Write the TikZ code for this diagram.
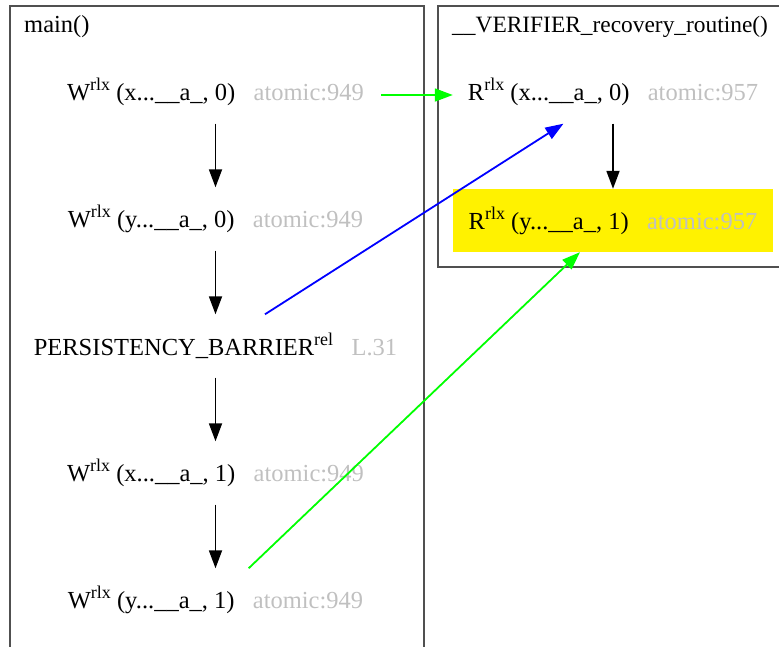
\documentclass[tikz,border=0pt]{standalone}
\usepackage{fontspec}
\setmainfont{Liberation Serif}
\usetikzlibrary{arrows.meta}
\definecolor{annot}{HTML}{C0C0C0}
\definecolor{frame}{HTML}{505050}
\newcommand\supx[1]{\raisebox{0.4em}{\fontsize{18}{18}\selectfont #1}}
\newcommand\annot[1]{\hspace{0.75em}\textcolor{annot}{#1}}
\begin{document}
\begin{tikzpicture}[x=1pt,y=-1pt,
  every node/.style={font=\fontsize{24.5}{27}\selectfont},
  lbox/.style={rectangle,inner sep=0pt,minimum width=331pt,minimum height=63pt},
  rbox/.style={rectangle,inner sep=0pt,minimum width=320pt,minimum height=63pt},
  cluster/.style={draw=frame,line width=1.8pt},
  title/.style={anchor=west,inner sep=0pt},
  tip/.style={-{Triangle[length=18pt,width=13pt]}},
  flow/.style={draw=black,line width=1.8pt,tip},
  rfedge/.style={draw=green,line width=1.8pt,tip},
  hbedge/.style={draw=blue,line width=1.8pt,tip}]
\useasboundingbox (0,0) rectangle (779,646);

% thread clusters
\draw[cluster] (10,6) rectangle (424,680);
\draw[cluster] (438,6) rectangle (800,267);
\node[title] (tmain) at (24,27) {main()};
\node[title,font=\fontsize{23.4}{26}\selectfont] (trec) at (452,27) {\_\_VERIFIER\_recovery\_routine()};

% events of main()
\node[lbox] (w1) at (215.5,92)  {W\supx{rlx} (x...\_\_a\_, 0)\annot{atomic:949}};
\node[lbox] (w2) at (215.5,219) {W\supx{rlx} (y...\_\_a\_, 0)\annot{atomic:949}};
\node[lbox] (pb) at (215.5,346) {PERSISTENCY\_BARRIER\supx{rel}\annot{L.31}};
\node[lbox] (w3) at (215.5,473) {W\supx{rlx} (x...\_\_a\_, 1)\annot{atomic:949}};
\node[lbox] (w4) at (215.5,600) {W\supx{rlx} (y...\_\_a\_, 1)\annot{atomic:949}};

% events of the recovery routine
\node[rbox] (r1) at (613,92) {R\supx{rlx} (x...\_\_a\_, 0)\annot{atomic:957}};
\node[rbox,fill=yellow] (r2) at (613,220.5) {R\supx{rlx} (y...\_\_a\_, 1)\annot{atomic:957}};

% program order
\draw[flow] (w1) -- (w2);
\draw[flow] (w2) -- (pb);
\draw[flow] (pb) -- (w3);
\draw[flow] (w3) -- (w4);
\draw[flow] (r1) -- (r2);

% reads-from and barrier edges
\draw[rfedge] ([yshift=-3pt]w1.east) -- ([yshift=-3pt]r1.west);
\draw[hbedge] (pb) -- (r1);
\draw[rfedge] (w4) -- (r2);
\end{tikzpicture}
\end{document}
